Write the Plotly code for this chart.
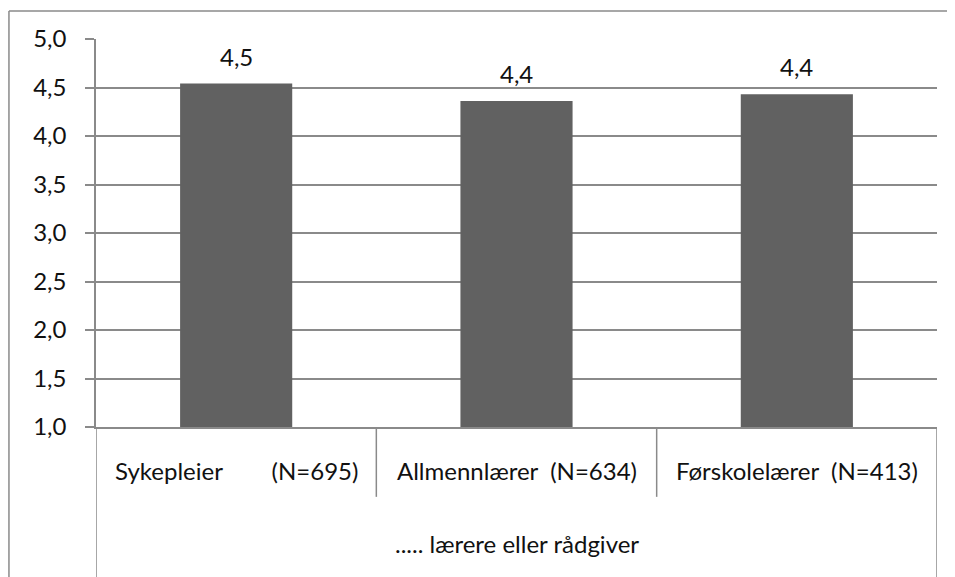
import plotly.graph_objects as go

categories = ["Sykepleier", "Allmennlærer", "Førskolelærer"]
cat_labels = ["Sykepleier\u00a0\u00a0\u00a0\u00a0\u00a0\u00a0\u00a0\u00a0(N=695)",
              "Allmennlærer\u00a0\u00a0(N=634)",
              "Førskolelærer\u00a0\u00a0(N=413)"]
values = [4.54, 4.36, 4.43]
value_labels = ["4,5", "4,4", "4,4"]
group_label = "..... lærere eller rådgiver"
y_ticks = [1.0, 1.5, 2.0, 2.5, 3.0, 3.5, 4.0, 4.5, 5.0]

FONT = "Lato, 'Open Sans', sans-serif"
GRID = "#8a8a8a"
BAR = "#616161"
FS = 24

fig = go.Figure()
fig.add_trace(go.Bar(x=categories, y=values, marker=dict(color=BAR, line=dict(width=0)),
                     width=0.4, hoverinfo="skip"))

annotations = []
for c, v, t in zip(categories, values, value_labels):
    annotations.append(dict(x=c, y=v, xref="x", yref="y", text=t, showarrow=False,
                            yanchor="bottom", yshift=11, font=dict(size=FS, color="#111", family=FONT)))
for c, t in zip(categories, cat_labels):
    annotations.append(dict(x=c, y=-0.111, xref="x", yref="paper", text=t, showarrow=False,
                            yanchor="middle", font=dict(size=FS, color="#111", family=FONT)))
annotations.append(dict(x=categories[1], y=-0.299, xref="x", yref="paper", text=group_label,
                        showarrow=False, yanchor="middle", font=dict(size=FS, color="#111", family=FONT)))

n = len(categories)
shapes = []
for i in range(1, n):
    shapes.append(dict(type="line", xref="x", yref="paper", x0=i - 0.5, x1=i - 0.5, y0=0, y1=-0.18,
                       line=dict(color=GRID, width=1.5)))
for xv in (-0.5, n - 0.5):
    shapes.append(dict(type="line", xref="x", yref="paper", x0=xv, x1=xv, y0=0, y1=-0.5,
                       line=dict(color=GRID, width=1.5)))
shapes.append(dict(type="line", xref="paper", yref="paper", x0=-0.1035, x1=1.1, y0=1.072, y1=1.072,
                   line=dict(color=GRID, width=1.5)))
shapes.append(dict(type="line", xref="paper", yref="paper", x0=-0.1035, x1=-0.1035, y0=1.072, y1=-0.5,
                   line=dict(color=GRID, width=1.5)))

fig.update_layout(
    width=955, height=577,
    margin=dict(l=88, r=26, t=31, b=158),
    paper_bgcolor="white", plot_bgcolor="white",
    separators=",.",
    showlegend=False,
    annotations=annotations,
    shapes=shapes,
    font=dict(family=FONT, size=FS, color="#111"),
    xaxis=dict(showticklabels=False, showgrid=False, showline=True, linecolor=GRID, linewidth=1.5,
               ticks="", range=[-0.5, n - 0.5], fixedrange=True),
    yaxis=dict(range=[1, 5], tickvals=y_ticks, tickformat=".1f", showgrid=True, gridcolor=GRID,
               gridwidth=1.5, showline=True, linecolor=GRID, linewidth=1.5, ticks="outside",
               ticklen=9, tickcolor=GRID, tickwidth=1.5, zeroline=False, ticklabelstandoff=14,
               tickfont=dict(size=FS, color="#111", family=FONT), fixedrange=True),
)

fig.write_html("out.html")
